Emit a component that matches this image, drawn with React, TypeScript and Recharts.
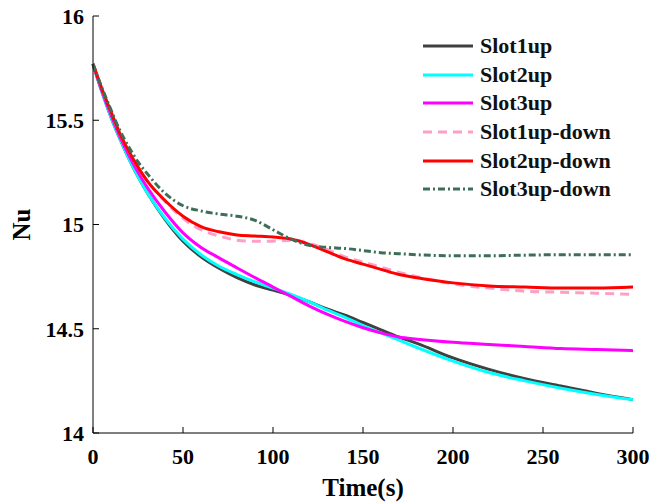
import { LineChart, Line, XAxis, YAxis } from 'recharts'

const times = [0, 5, 10, 15, 20, 25, 30, 40, 50, 60, 70, 80, 90, 100, 110, 120, 130, 140, 150, 160, 170, 180, 200, 220, 240, 260, 280, 300]

const slot1up = [15.77, 15.635, 15.515, 15.41, 15.315, 15.23, 15.155, 15.025, 14.92, 14.845, 14.79, 14.745, 14.71, 14.685, 14.66, 14.63, 14.595, 14.565, 14.53, 14.495, 14.46, 14.43, 14.36, 14.305, 14.26, 14.225, 14.19, 14.16]
const slot2up = [15.77, 15.635, 15.515, 15.41, 15.315, 15.23, 15.155, 15.03, 14.93, 14.855, 14.8, 14.76, 14.725, 14.695, 14.665, 14.63, 14.59, 14.555, 14.515, 14.48, 14.445, 14.41, 14.345, 14.29, 14.25, 14.215, 14.185, 14.16]
const slot3up = [15.77, 15.64, 15.525, 15.42, 15.33, 15.25, 15.18, 15.06, 14.96, 14.89, 14.84, 14.792, 14.745, 14.7, 14.655, 14.61, 14.57, 14.535, 14.505, 14.48, 14.46, 14.45, 14.435, 14.425, 14.415, 14.405, 14.4, 14.395]
const slot1upDown = [15.77, 15.65, 15.54, 15.435, 15.35, 15.275, 15.21, 15.11, 15.03, 14.975, 14.945, 14.925, 14.92, 14.92, 14.925, 14.91, 14.88, 14.845, 14.82, 14.795, 14.77, 14.75, 14.715, 14.695, 14.68, 14.675, 14.67, 14.665]
const slot2upDown = [15.77, 15.65, 15.54, 15.435, 15.35, 15.275, 15.21, 15.115, 15.04, 14.99, 14.965, 14.95, 14.945, 14.94, 14.93, 14.905, 14.87, 14.835, 14.81, 14.785, 14.76, 14.745, 14.72, 14.705, 14.7, 14.695, 14.695, 14.7]
const slot3upDown = [15.77, 15.655, 15.55, 15.45, 15.37, 15.3, 15.245, 15.15, 15.09, 15.065, 15.05, 15.04, 15.02, 14.975, 14.93, 14.9, 14.89, 14.885, 14.875, 14.865, 14.86, 14.855, 14.85, 14.85, 14.853, 14.855, 14.855, 14.855]

const xTicks = [0, 50, 100, 150, 200, 250, 300]
const yTicks = [14, 14.5, 15, 15.5, 16]

const series = [
  { key: 'slot1up', name: 'Slot1up', color: '#404040', dash: undefined },
  { key: 'slot2up', name: 'Slot2up', color: '#00FFFF', dash: undefined },
  { key: 'slot3up', name: 'Slot3up', color: '#FF00FF', dash: undefined },
  { key: 'slot1upDown', name: 'Slot1up-down', color: '#FF9FC8', dash: '9 6' },
  { key: 'slot2upDown', name: 'Slot2up-down', color: '#FF0000', dash: undefined },
  { key: 'slot3upDown', name: 'Slot3up-down', color: '#3F6E58', dash: '7 3 2 3' },
]

const data = times.map((t, i) => ({
  t,
  slot1up: slot1up[i],
  slot2up: slot2up[i],
  slot3up: slot3up[i],
  slot1upDown: slot1upDown[i],
  slot2upDown: slot2upDown[i],
  slot3upDown: slot3upDown[i],
}))

const font = "'Liberation Serif', 'Times New Roman', serif"
const tickStyle = { fill: '#000', fontSize: 22, fontWeight: 700, fontFamily: font }

function LegendBox() {
  return (
    <div
      style={{
        position: 'absolute',
        left: 422,
        top: 32,
        fontFamily: font,
        fontWeight: 700,
        fontSize: 22,
        color: '#111',
      }}
    >
      {series.map((s) => (
        <div key={s.key} style={{ display: 'flex', alignItems: 'center', height: 28.6 }}>
          <svg width={52} height={8} style={{ marginRight: 6 }}>
            <line x1={1} y1={4} x2={51} y2={4} stroke={s.color} strokeWidth={3} strokeDasharray={s.dash} />
          </svg>
          <span>{s.name}</span>
        </div>
      ))}
    </div>
  )
}

export default function App() {
  return (
    <div style={{ position: 'absolute', left: 0, top: 0, width: 669, height: 503, background: '#fff' }}>
      <LineChart width={669} height={503} data={data} margin={{ top: 16, right: 36, bottom: 0, left: 0 }}>
        <XAxis
          dataKey="t"
          type="number"
          domain={[0, 300]}
          ticks={xTicks}
          interval={0}
          height={70}
          tickSize={-6}
          tickMargin={21}
          tick={tickStyle}
          axisLine={{ stroke: '#000' }}
          tickLine={{ stroke: '#000' }}
          label={{ value: 'Time(s)', position: 'insideBottom', offset: 7, style: { fill: '#000', fontSize: 25, fontWeight: 700, fontFamily: font } }}
        />
        <XAxis
          xAxisId="top"
          orientation="top"
          dataKey="t"
          type="number"
          domain={[0, 300]}
          ticks={xTicks}
          height={0}
          tickSize={-6}
          tickFormatter={() => ''}
          axisLine={{ stroke: '#000' }}
          tickLine={{ stroke: '#000' }}
        />
        <YAxis
          type="number"
          domain={[14, 16]}
          ticks={yTicks}
          interval={0}
          width={93}
          tickSize={-6}
          tickMargin={15}
          tick={tickStyle}
          axisLine={{ stroke: '#000' }}
          tickLine={{ stroke: '#000' }}
          label={{ value: 'Nu', angle: -90, position: 'insideLeft', offset: 21, style: { fill: '#000', fontSize: 25, fontWeight: 700, fontFamily: font, textAnchor: 'middle' } }}
        />
        <YAxis
          yAxisId="right"
          orientation="right"
          type="number"
          domain={[14, 16]}
          ticks={yTicks}
          width={0}
          tickSize={-6}
          tickFormatter={() => ''}
          axisLine={{ stroke: '#000' }}
          tickLine={{ stroke: '#000' }}
        />
        {series.map((s) => (
          <Line
            key={s.key}
            dataKey={s.key}
            name={s.name}
            type="monotone"
            stroke={s.color}
            strokeWidth={3}
            strokeDasharray={s.dash}
            dot={false}
            activeDot={false}
            isAnimationActive={false}
          />
        ))}
      </LineChart>
      <LegendBox />
    </div>
  )
}
